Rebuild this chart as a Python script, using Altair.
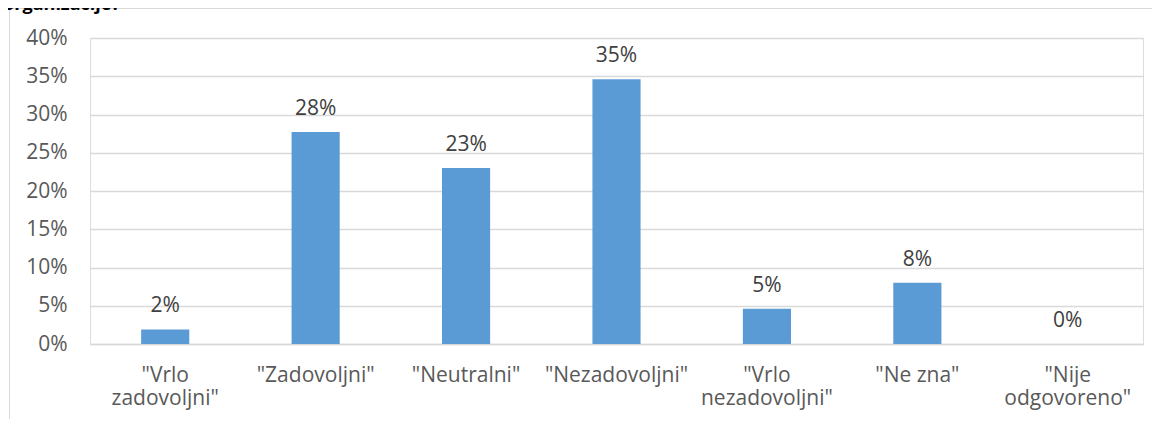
import altair as alt
import pandas as pd

categories = ['"Vrlo zadovoljni"', '"Zadovoljni"', '"Neutralni"', '"Nezadovoljni"',
              '"Vrlo nezadovoljni"', '"Ne zna"', '"Nije odgovoreno"']
values = [0.019, 0.277, 0.230, 0.346, 0.046, 0.080, 0.0]
y_ticks = [0, 0.05, 0.10, 0.15, 0.20, 0.25, 0.30, 0.35, 0.40]
title_fragment = "organizacije?"

df = pd.DataFrame({"cat": categories, "val": values})

FONT = "Open Sans"
FS = 21
AXIS_GREY = "#595959"
GRID = "#d9d9d9"
BAR = "#5B9BD5"

PAD_L, PAD_T = 82, 30
W, H = 1053, 306
TOT_W, TOT_H = 1144, 411

x_enc = alt.X(
    "cat:N", sort=categories, title=None,
    scale=alt.Scale(paddingInner=0.68, paddingOuter=0.34),
    axis=alt.Axis(
        labelAngle=0, ticks=False, domain=True, domainColor=GRID, domainWidth=1.5,
        labelFont=FONT, labelFontSize=FS, labelColor=AXIS_GREY,
        labelPadding=20, labelBaseline="top", labelLineHeight=23,
        labelExpr="indexof(datum.label, 'Vrlo') >= 0 || indexof(datum.label, 'Nije') >= 0 ? split(datum.label, ' ') : datum.label",
    ),
)
y_enc = alt.Y(
    "val:Q", title=None,
    scale=alt.Scale(domain=[0, 0.4], nice=False),
    axis=alt.Axis(
        values=y_ticks, format=".0%", grid=True, gridColor=GRID, gridWidth=1.5,
        domain=False, ticks=False, labelFont=FONT, labelFontSize=FS,
        labelColor=AXIS_GREY, labelPadding=23, labelOverlap=False,
    ),
)

base = alt.Chart(df)
bars = base.mark_bar(color=BAR).encode(x=x_enc, y=y_enc)
labels = base.mark_text(
    font=FONT, fontSize=FS, color="#404040", baseline="alphabetic", dy=-17
).encode(x=x_enc, y=y_enc, text=alt.Text("val:Q", format=".0%"))

frame_df = pd.DataFrame({"t": [title_fragment]})
frame = alt.Chart(frame_df).mark_rect(
    fillOpacity=0, stroke=GRID, strokeWidth=1
).encode(
    x=alt.value(-PAD_L + 1.5), x2=alt.value(3000),
    y=alt.value(-PAD_T + 0.5), y2=alt.value(3000),
)
title = alt.Chart(frame_df).mark_text(
    font=FONT, fontSize=18, fontWeight="bold", color="#000000",
    align="right", baseline="alphabetic",
).encode(x=alt.value(-PAD_L + 112), y=alt.value(-PAD_T + 2), text="t:N")

chart = alt.layer(frame, title, bars, labels).properties(
    width=W, height=H,
    autosize=alt.AutoSizeParams(type="none"),
    padding={"left": PAD_L, "top": PAD_T, "right": TOT_W - PAD_L - W, "bottom": TOT_H - PAD_T - H},
).configure_view(stroke=None).configure(background="white")

chart.save("out.html", embed_options={"renderer": "svg", "actions": False})
